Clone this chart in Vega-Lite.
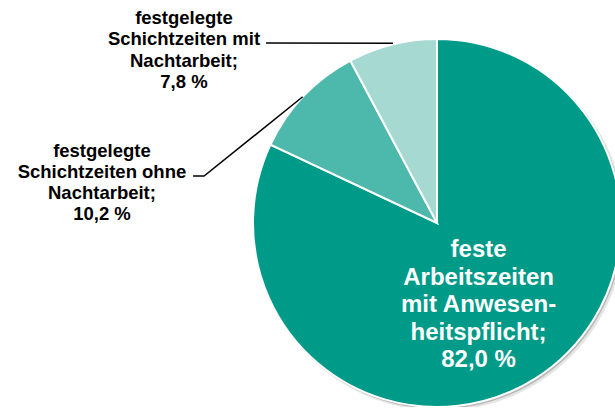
{
  "$schema": "https://vega.github.io/schema/vega-lite/v6.json",
  "autosize": "none",
  "width": 362,
  "height": 368,
  "padding": {"left": 253, "top": 39, "right": 0, "bottom": 0},
  "background": "white",
  "config": {"view": {"stroke": null}},
  "datasets": {
    "anteile": [
      {"kat": "feste Arbeitszeiten mit Anwesenheitspflicht", "anteil": 82.0, "ord": 1, "label": "feste\nArbeitszeiten\nmit Anwesen-\nheitspflicht;\n82,0 %"},
      {"kat": "festgelegte Schichtzeiten ohne Nachtarbeit", "anteil": 10.2, "ord": 2, "label": "festgelegte\nSchichtzeiten ohne\nNachtarbeit;\n10,2 %"},
      {"kat": "festgelegte Schichtzeiten mit Nachtarbeit", "anteil": 7.8, "ord": 3, "label": "festgelegte\nSchichtzeiten mit\nNachtarbeit;\n7,8 %"}
    ],
    "leader": [
      {"id": "mit", "step": 1, "u": -0.929, "v": 0.978},
      {"id": "mit", "step": 2, "u": -0.239, "v": 0.977},
      {"id": "ohne", "step": 1, "u": -1.326, "v": 0.255},
      {"id": "ohne", "step": 2, "u": -1.266, "v": 0.255},
      {"id": "ohne", "step": 3, "u": -0.730, "v": 0.686}
    ]
  },
  "layer": [
    {
      "data": {"name": "anteile"},
      "mark": {"type": "arc", "x": {"expr": "height/2+3"}, "y": {"expr": "height/2+3"}, "outerRadius": {"expr": "height/2+1"}, "color": "#000000", "opacity": 0.1},
      "encoding": {"theta": {"aggregate": "sum", "field": "anteil", "type": "quantitative", "scale": {"domain": [0, 100]}}}
    },
    {
      "data": {"name": "anteile"},
      "mark": {"type": "arc", "x": {"expr": "height/2+1.5"}, "y": {"expr": "height/2+1.5"}, "outerRadius": {"expr": "height/2+0.5"}, "color": "#000000", "opacity": 0.2},
      "encoding": {"theta": {"aggregate": "sum", "field": "anteil", "type": "quantitative"}}
    },
    {
      "data": {"name": "anteile"},
      "mark": {"type": "arc", "x": {"expr": "height/2"}, "y": {"expr": "height/2"}, "outerRadius": {"expr": "height/2"}, "stroke": "#ffffff", "strokeWidth": 2},
      "encoding": {
        "theta": {"field": "anteil", "type": "quantitative", "stack": true},
        "order": {"field": "ord", "type": "quantitative"},
        "color": {"field": "kat", "type": "nominal", "legend": null,
          "scale": {"domain": ["feste Arbeitszeiten mit Anwesenheitspflicht", "festgelegte Schichtzeiten ohne Nachtarbeit", "festgelegte Schichtzeiten mit Nachtarbeit"],
                    "range": ["#009A88", "#4DB8AC", "#A6D9D2"]}}
      }
    },
    {
      "data": {"name": "leader"},
      "mark": {"type": "line", "color": "#000000", "strokeWidth": 1.5},
      "encoding": {
        "x": {"field": "u", "type": "quantitative", "axis": null, "scale": {"domain": [-1, 0.9674], "nice": false, "zero": false}},
        "y": {"field": "v", "type": "quantitative", "axis": null, "scale": {"domain": [-1, 1], "nice": false, "zero": false}},
        "detail": {"field": "id", "type": "nominal"},
        "order": {"field": "step", "type": "quantitative"}
      }
    },
    {
      "data": {"name": "anteile"},
      "transform": [
        {"stack": "anteil", "groupby": [], "sort": [{"field": "ord"}], "as": ["s0", "s1"]},
        {"calculate": "(datum.s0 + datum.s1) / 2", "as": "mitte"},
        {"filter": "datum.ord == 1"}
      ],
      "mark": {"type": "text", "x": {"expr": "height/2"}, "y": {"expr": "height/2"}, "radius": 100, "dx": -12, "dy": -57,
               "align": "center", "baseline": "middle", "lineBreak": "\n", "font": "Liberation Sans", "fontWeight": "bold",
               "fontSize": 24, "lineHeight": 27.5, "color": "#ffffff"},
      "encoding": {
        "theta": {"field": "mitte", "type": "quantitative", "stack": null},
        "text": {"field": "label"}
      }
    },
    {
      "data": {"name": "anteile"},
      "transform": [
        {"stack": "anteil", "groupby": [], "sort": [{"field": "ord"}], "as": ["s0", "s1"]},
        {"calculate": "(datum.s0 + datum.s1) / 2", "as": "mitte"},
        {"filter": "datum.ord == 2"}
      ],
      "mark": {"type": "text", "x": {"expr": "height/2"}, "y": {"expr": "height/2"}, "radius": 184, "dx": -201.7, "dy": 54.3,
               "align": "center", "baseline": "middle", "lineBreak": "\n", "font": "Liberation Sans", "fontWeight": "bold",
               "fontSize": 18.5, "lineHeight": 21, "color": "#000000"},
      "encoding": {
        "theta": {"field": "mitte", "type": "quantitative", "stack": null},
        "text": {"field": "label"}
      }
    },
    {
      "data": {"name": "anteile"},
      "transform": [
        {"stack": "anteil", "groupby": [], "sort": [{"field": "ord"}], "as": ["s0", "s1"]},
        {"calculate": "(datum.s0 + datum.s1) / 2", "as": "mitte"},
        {"filter": "datum.ord == 3"}
      ],
      "mark": {"type": "text", "x": {"expr": "height/2"}, "y": {"expr": "height/2"}, "radius": 184, "dx": -208.4, "dy": -26.75,
               "align": "center", "baseline": "middle", "lineBreak": "\n", "font": "Liberation Sans", "fontWeight": "bold",
               "fontSize": 18.5, "lineHeight": 21.5, "color": "#000000"},
      "encoding": {
        "theta": {"field": "mitte", "type": "quantitative", "stack": null},
        "text": {"field": "label"}
      }
    }
  ]
}
